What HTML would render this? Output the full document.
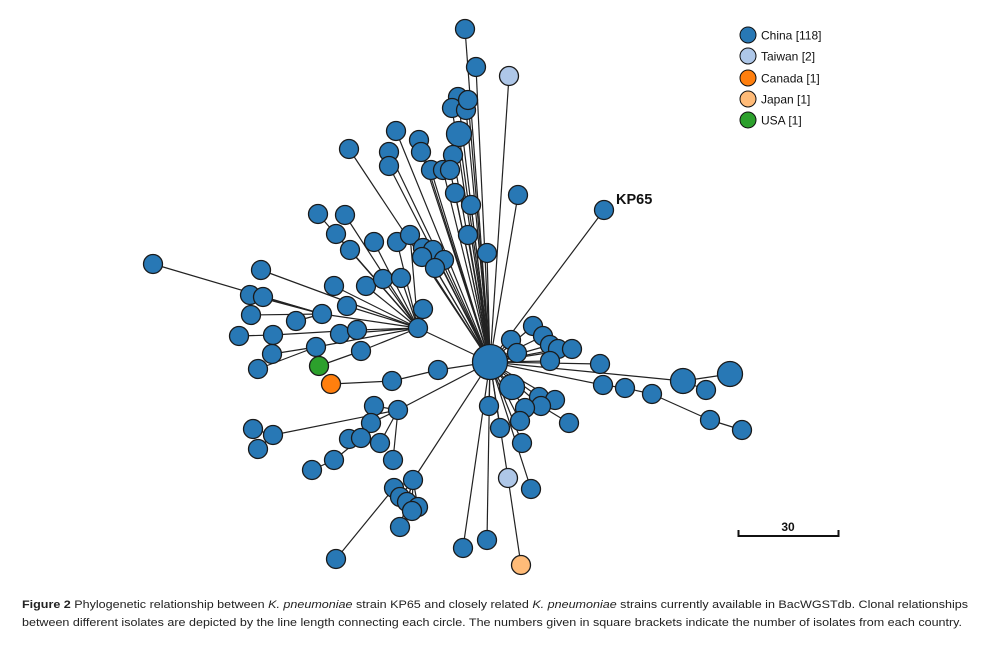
<!DOCTYPE html>
<html><head><meta charset="utf-8">
<style>
html,body{margin:0;padding:0;background:#fff;}
#wrap{position:relative;width:983px;height:654px;overflow:hidden;font-family:"Liberation Sans",Arial,sans-serif;}
.cap{position:absolute;left:22px;font-size:11.4px;color:#222;white-space:nowrap;transform-origin:0 0;}
</style></head>
<body>
<div id="wrap">
<svg id="net" width="983" height="590" style="position:absolute;left:0;top:0">
 <g id="edges"></g>
 <g id="nodes"></g>
 <text x="616" y="204" font-size="14.5" font-weight="bold" fill="#111">KP65</text>
 <g font-size="12" fill="#111">
  <g><circle cx="748" cy="35" r="8" fill="#2878b5" stroke="#111"/><text x="761" y="39.5">China [118]</text></g>
  <g><circle cx="748" cy="56" r="8" fill="#aec7e8" stroke="#111"/><text x="761" y="60.5">Taiwan [2]</text></g>
  <g><circle cx="748" cy="78" r="8" fill="#ff7f0e" stroke="#111"/><text x="761" y="82.5">Canada [1]</text></g>
  <g><circle cx="748" cy="99" r="8" fill="#ffbb78" stroke="#111"/><text x="761" y="103.5">Japan [1]</text></g>
  <g><circle cx="748" cy="120" r="8" fill="#2ca02c" stroke="#111"/><text x="761" y="124.5">USA [1]</text></g>
 </g>
 <g>
  <path d="M738.5 530 V536 H838.5 V530" fill="none" stroke="#111" stroke-width="2"/>
  <text x="788" y="531" font-size="12" font-weight="bold" text-anchor="middle" fill="#111">30</text>
 </g>
</svg>
<div class="cap" id="cap1" style="top:599px"><b>Figure 2</b> Phylogenetic relationship between <i>K. pneumoniae</i> strain KP65 and closely related <i>K. pneumoniae</i> strains currently available in BacWGSTdb. Clonal relationships</div>
<div class="cap" id="cap2" style="top:617px">between different isolates are depicted by the line length connecting each circle. The numbers given in square brackets indicate the number of isolates from each country.</div>
</div>
<script>
// node layout: x, y, radius class (0 normal,1 large,2 hub), country, parent index
const nodeX = [490,418,465,476,509,458,452,466,468,459,396,349,419,421,389,389,453,431,443,450,455,471,518,604,468,487,318,345,336,350,374,397,410,423,433,422,444,435,153,261,250,263,251,296,322,334,366,383,401,347,423,239,273,340,357,361,316,272,258,319,331,392,438,533,511,517,543,550,558,572,550,600,512,603,625,652,683,730,706,710,742,539,555,541,525,520,569,522,489,500,508,531,521,374,398,371,349,361,380,334,312,393,273,253,258,413,394,400,407,418,412,400,336,463,487];
const nodeY = [362,328,29,67,76,97,108,110,100,134,131,149,140,152,152,166,155,170,170,170,193,205,195,210,235,253,214,215,234,250,242,242,235,248,250,257,260,268,264,270,295,297,315,321,314,286,286,279,278,306,309,336,335,334,330,351,347,354,369,366,384,381,370,326,340,353,336,345,349,349,361,364,387,385,388,394,381,374,390,420,430,397,400,406,408,421,423,443,406,428,478,489,565,406,410,423,439,438,443,460,470,460,435,429,449,480,488,497,502,507,511,527,559,548,540];
const nodeSize = [2,0,0,0,0,0,0,0,0,1,0,0,0,0,0,0,0,0,0,0,0,0,0,0,0,0,0,0,0,0,0,0,0,0,0,0,0,0,0,0,0,0,0,0,0,0,0,0,0,0,0,0,0,0,0,0,0,0,0,0,0,0,0,0,0,0,0,0,0,0,0,0,1,0,0,0,1,1,0,0,0,0,0,0,0,0,0,0,0,0,0,0,0,0,0,0,0,0,0,0,0,0,0,0,0,0,0,0,0,0,0,0,0,0,0];
const nodeCountry = ["CN","CN","CN","CN","TW","CN","CN","CN","CN","CN","CN","CN","CN","CN","CN","CN","CN","CN","CN","CN","CN","CN","CN","CN","CN","CN","CN","CN","CN","CN","CN","CN","CN","CN","CN","CN","CN","CN","CN","CN","CN","CN","CN","CN","CN","CN","CN","CN","CN","CN","CN","CN","CN","CN","CN","CN","CN","CN","CN","US","CA","CN","CN","CN","CN","CN","CN","CN","CN","CN","CN","CN","CN","CN","CN","CN","CN","CN","CN","CN","CN","CN","CN","CN","CN","CN","CN","CN","CN","CN","TW","CN","JP","CN","CN","CN","CN","CN","CN","CN","CN","CN","CN","CN","CN","CN","CN","CN","CN","CN","CN","CN","CN","CN","CN"];
const nodeParent = [-1,0,0,0,0,0,0,0,0,0,0,0,0,0,0,0,0,0,0,0,0,0,0,0,0,0,1,1,1,1,1,1,1,0,0,0,0,0,44,1,44,44,44,44,1,1,1,1,1,1,1,52,54,1,1,1,1,56,56,55,61,62,0,0,0,0,0,0,0,0,0,0,0,0,73,74,0,76,76,75,79,0,0,0,0,0,83,0,0,0,0,0,90,94,0,94,97,97,94,97,99,94,94,102,102,0,105,105,105,105,105,105,106,0,0];
const colors = {CN:"#2878b5",TW:"#aec7e8",CA:"#ff7f0e",JP:"#ffbb78",US:"#2ca02c"};
const radii = [9.5,12.5,17.5];
const NS = "http://www.w3.org/2000/svg";
const eg = document.getElementById('edges'), ng = document.getElementById('nodes');
for (let i=0;i<nodeX.length;i++){
  const p = nodeParent[i];
  if (p<0) continue;
  const l = document.createElementNS(NS,'line');
  
  
  l.setAttribute('x1',nodeX[p]); l.setAttribute('y1',nodeY[p]);
  l.setAttribute('x2',nodeX[i]); l.setAttribute('y2',nodeY[i]);
  l.setAttribute('stroke','#222'); l.setAttribute('stroke-width','1.2');
  eg.appendChild(l);
}
for (let i=0;i<nodeX.length;i++){
  const c = document.createElementNS(NS,'circle');
  
  
  c.setAttribute('cx',nodeX[i]); c.setAttribute('cy',nodeY[i]);
  c.setAttribute('r',radii[nodeSize[i]]);
  c.setAttribute('fill',colors[nodeCountry[i]]);
  c.setAttribute('stroke','#1a1a1a'); c.setAttribute('stroke-width','1.3');
  ng.appendChild(c);
}
// stretch caption lines to the reference widths
[['cap1',946],['cap2',940]].forEach(function(a){
  const el=document.getElementById(a[0]);
  const w=el.getBoundingClientRect().width;
  if(w>0) el.style.transform='scaleX('+(a[1]/w)+')';
});
</script>
</body></html>
